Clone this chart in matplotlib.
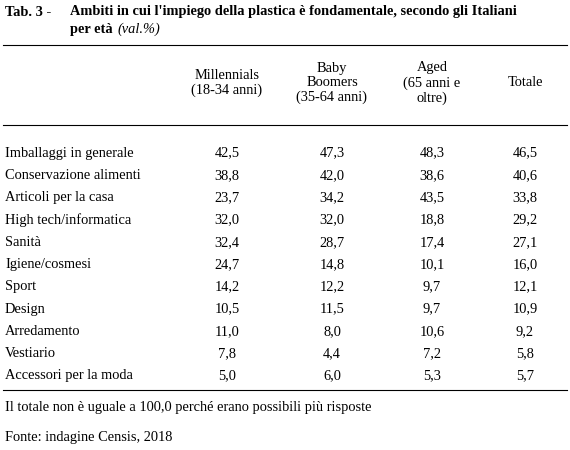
import matplotlib.pyplot as plt
from matplotlib.lines import Line2D

plt.rcParams['font.family'] = ['Liberation Serif', 'DejaVu Serif']

W, H = 570, 450

categories = ["Imballaggi in generale", "Conservazione alimenti", "Articoli per la casa",
              "High tech/informatica", "Sanità", "Igiene/cosmesi", "Sport", "Design",
              "Arredamento", "Vestiario", "Accessori per la moda"]
millennials = ["42,5", "38,8", "23,7", "32,0", "32,4", "24,7", "14,2", "10,5", "11,0", "7,8", "5,0"]
boomers = ["47,3", "42,0", "34,2", "32,0", "28,7", "14,8", "12,2", "11,5", "8,0", "4,4", "6,0"]
aged = ["48,3", "38,6", "43,5", "18,8", "17,4", "10,1", "9,7", "9,7", "10,6", "7,2", "5,3"]
totale = ["46,5", "40,6", "33,8", "29,2", "27,1", "16,0", "12,1", "10,9", "9,2", "5,8", "5,7"]
headers = ["Millennials\n(18-34 anni)", "Baby\nBoomers\n(35-64 anni)", "Aged\n(65 anni e\noltre)", "Totale"]

fig = plt.figure(figsize=(W / 100, H / 100), dpi=100)


def t(x, y, s, **kw):
    kw.setdefault('fontsize', 10.4)
    kw.setdefault('va', 'center')
    fig.text(x / W, 1 - y / H, s, **kw)


def hline(y):
    fig.add_artist(Line2D([3 / W, 567 / W], [1 - y / H] * 2, color='black', lw=0.8))


t(5, 12, "Tab. 3 -", fontweight='bold')
t(70, 12, "Ambiti in cui l'impiego della plastica è fondamentale, secondo gli Italiani", fontweight='bold')
t(70, 29, "per età", fontweight='bold')
t(118, 29, "(val.%)", style='italic')

hline(45)
col_x = [227, 332, 432, 525]
for x, h in zip(col_x, headers):
    t(x, 83, h, ha='center', linespacing=1.15)
hline(125)

y0, dy = 153, 22.3
for i, c in enumerate(categories):
    y = y0 + i * dy
    t(5, y, c)
    for x, col in zip(col_x, [millennials, boomers, aged, totale]):
        t(x, y, col[i], ha='center')

hline(390)
t(5, 408, "Il totale non è uguale a 100,0 perché erano possibili più risposte")
t(5, 437, "Fonte: indagine Censis, 2018")

fig.savefig("out.png", dpi=100)
